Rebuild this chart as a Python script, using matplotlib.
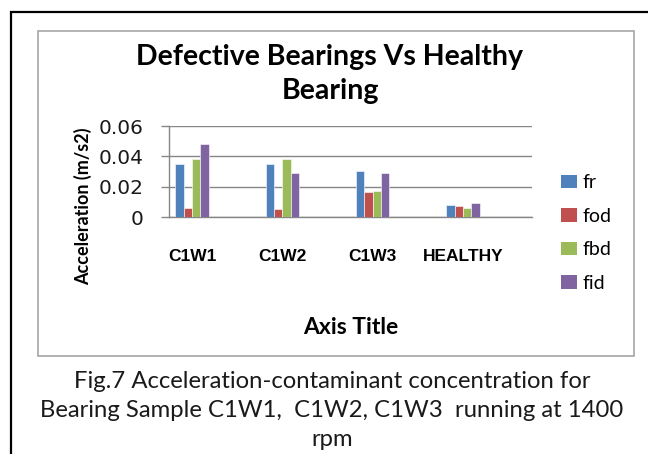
import numpy as np
import matplotlib
matplotlib.use('Agg')
import matplotlib.pyplot as plt
from matplotlib.patches import Rectangle, Patch

# data
categories = ['C1W1', 'C1W2', 'C1W3', 'HEALTHY']
series = ['fr', 'fod', 'fbd', 'fid']
fr = [0.035, 0.035, 0.0302, 0.0081]
fod = [0.0061, 0.005, 0.0166, 0.007]
fbd = [0.0385, 0.0385, 0.0173, 0.0061]
fid = [0.0484, 0.0289, 0.0289, 0.0092]
yticks = [0, 0.02, 0.04, 0.06]
ytick_labels = ['0', '0.02', '0.04', '0.06']

colors = ['#4F81BD', '#C0504D', '#9BBB59', '#8064A2']
W, H = 648, 454

fig = plt.figure(figsize=(6.48, 4.54), dpi=100)

# outer black frame (runs off the right and bottom edges)
fig.patches.append(Rectangle((11 / W, -0.2), 1.2, 1 - 12 / H + 0.2, transform=fig.transFigure,
                             fill=False, edgecolor='black', linewidth=1.6, clip_on=False))
# inner grey chart box
fig.patches.append(Rectangle((38 / W, 1 - 356 / H), (634 - 38) / W, (356 - 31) / H,
                             transform=fig.transFigure, fill=False, edgecolor='#A6A6A6', linewidth=1.2))

ax = fig.add_axes([169 / W, 1 - 217 / H, (532 - 169) / W, (217 - 126) / H])

x = np.arange(len(categories))
bw = 0.092
for i, (name, vals) in enumerate(zip(series, [fr, fod, fbd, fid])):
    ax.bar(x + (i - 1.5) * bw, vals, width=bw, color=colors[i], edgecolor='white',
           linewidth=0.4, zorder=3)

ax.set_xlim(-0.255, 3.765)
ax.set_ylim(0, 0.06)
ax.set_yticks(yticks)
ax.set_yticklabels(ytick_labels, fontsize=14.5, family='DejaVu Sans', color='#1a1a1a')
ax.set_xticks(x)
ax.set_xticklabels(categories, fontsize=12.5, fontweight='bold', family='Liberation Sans')
ax.tick_params(axis='y', length=6, width=1, color='#868686', direction='out', pad=12)
ax.tick_params(axis='x', length=0, pad=23)
ax.grid(axis='y', color='#868686', linewidth=1, zorder=0)
for s in ['top', 'right']:
    ax.spines[s].set_visible(False)
for s in ['left', 'bottom']:
    ax.spines[s].set_color('#868686')
    ax.spines[s].set_linewidth(1)

# titles and axis labels
fig.text(330 / W, 1 - 57 / H, 'Defective Bearings Vs Healthy', ha='center', va='center',
         fontsize=20.5, fontweight='bold', family='Lato')
fig.text(330 / W, 1 - 91 / H, 'Bearing', ha='center', va='center',
         fontsize=20.5, fontweight='bold', family='Lato')
fig.text(83 / W, 1 - 206 / H, 'Acceleration (m/s2)', rotation=90, ha='center', va='center',
         fontsize=13, fontweight='bold', family='Lato')
fig.text(351 / W, 1 - 327 / H, 'Axis Title', ha='center', va='center',
         fontsize=16.5, fontweight='bold', family='Lato')

handles = [Patch(facecolor=c, edgecolor='none') for c in colors]
fig.legend(handles, series, loc='center left', bbox_to_anchor=(543 / W, 1 - 233 / H),
           frameon=False, prop={'family': 'Lato', 'size': 14},
           handlelength=0.85, handleheight=0.7, handletextpad=0.3, labelspacing=0.85)

# caption below the chart box
caption = ['Fig.7 Acceleration-contaminant concentration for',
           'Bearing Sample C1W1,  C1W2, C1W3  running at 1400',
           'rpm']
for k, line in enumerate(caption):
    fig.text(332 / W, 1 - (381 + 29.5 * k) / H, line, ha='center', va='center',
             fontsize=17.2, family='Lato', color='#1a1a1a')

fig.savefig('out.png', dpi=100)
